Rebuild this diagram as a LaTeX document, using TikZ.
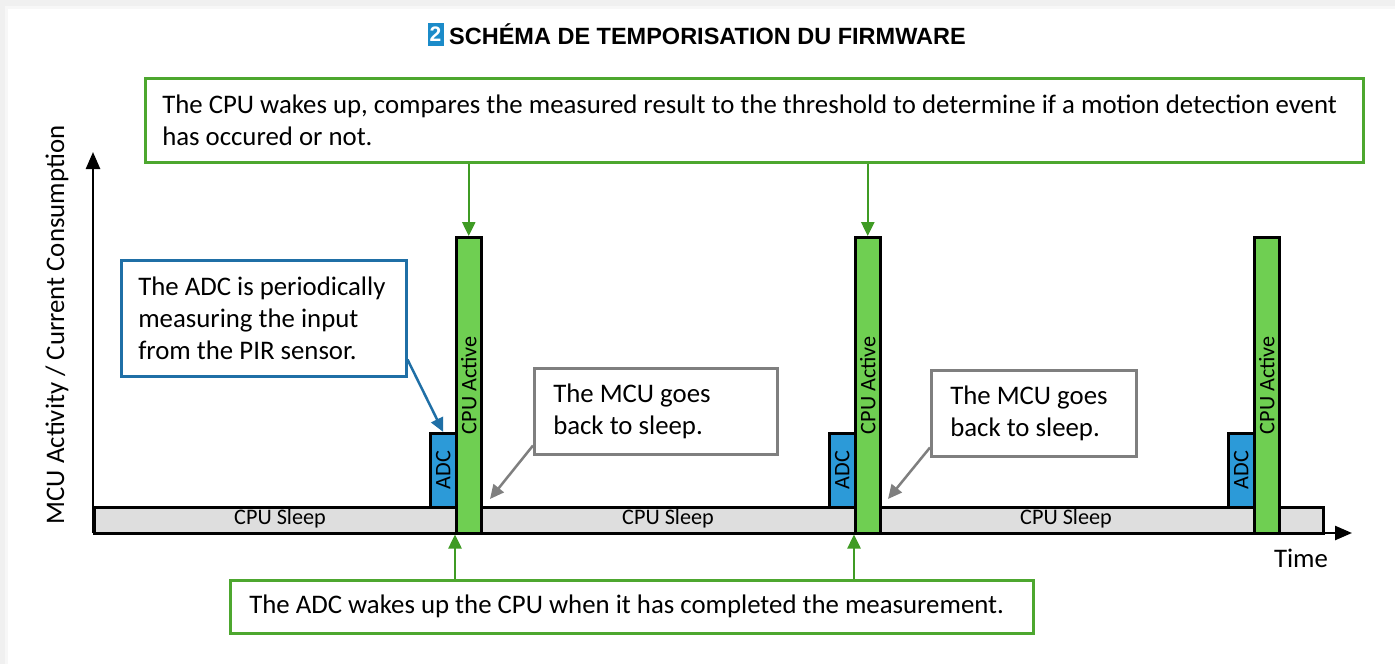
\documentclass[tikz,border=0pt]{standalone}
\usepackage{fontspec}
\setmainfont{Carlito}
\newfontfamily\headfont{Liberation Sans}
\usetikzlibrary{arrows.meta}
\definecolor{cpugreen}{HTML}{6FCF52}
\definecolor{boxgreen}{HTML}{4DA72F}
\definecolor{arrowgreen}{HTML}{3F9B24}
\definecolor{adcblue}{HTML}{2C9AD8}
\definecolor{noteblue}{HTML}{1F6FA6}
\definecolor{sleepgray}{HTML}{DEDEDE}
\definecolor{notegray}{HTML}{7F7F7F}
\definecolor{badgeblue}{HTML}{1B8BC9}
\begin{document}
\begin{tikzpicture}[x=1pt,y=-1pt,
  bar/.style={draw=black, line width=2.5pt, inner sep=0pt, anchor=north west},
  cpubar/.style={bar, fill=cpugreen, minimum width=25pt, minimum height=296pt},
  adcbar/.style={bar, fill=adcblue, minimum width=26pt, minimum height=74pt},
  barlabel/.style={rotate=90, inner sep=0pt, font=\fontsize{22.2}{24}\selectfont},
  note/.style={line width=2.5pt, fill=white, anchor=north west, align=flush left,
    inner xsep=19pt, inner ysep=0pt, font=\fontsize{26.8}{32}\selectfont},
  greennote/.style={note, draw=boxgreen},
  bluenote/.style={note, draw=noteblue},
  graynote/.style={note, draw=notegray},
  tipstyle/.style={-{Triangle[length=14pt,width=13pt]}},
  greenarrow/.style={tipstyle, draw=arrowgreen, line width=2.5pt},
  bluearrow/.style={tipstyle, draw=noteblue, line width=2.5pt},
  grayarrow/.style={tipstyle, draw=notegray, line width=2.5pt},
  axis/.style={line width=2.5pt, -{Triangle[length=17pt,width=14pt]}},
  axislabel/.style={font=\fontsize{26.8}{32}\selectfont}
]
\useasboundingbox (0,0) rectangle (1395,664);
% page and card
\fill[black!6] (0,0) rectangle (1395,664);
\fill[black!3] (5,6) rectangle (1395,664);
\fill[white] (8,9) rectangle (1395,664);

% heading
\node[fill=badgeblue, text=white, minimum width=16pt, minimum height=23pt, inner sep=0pt,
  font=\headfont\bfseries\fontsize{21}{22}\selectfont] (badge) at (435.5,34) {2};
\node[anchor=west, inner sep=0pt, font=\headfont\bfseries\fontsize{23.5}{26}\selectfont] (title) at (449,34)
  {SCHÉMA DE TEMPORISATION DU FIRMWARE};

% sleep band
\node[bar, fill=sleepgray, minimum width=1229pt, minimum height=26pt] (sleep) at (93,506) {};
\node[barlabel, rotate=-90] (s1) at (280,519) {CPU Sleep};
\node[barlabel, rotate=-90] (s2) at (668,519) {CPU Sleep};
\node[barlabel, rotate=-90] (s3) at (1066,519) {CPU Sleep};

% ADC conversions and CPU active bursts
\node[adcbar] (adc1) at (429,432) {};
\node[adcbar] (adc2) at (828,432) {};
\node[adcbar] (adc3) at (1227,432) {};
\node[cpubar] (cpu1) at (455,236) {};
\node[cpubar] (cpu2) at (854,236) {};
\node[cpubar] (cpu3) at (1253,236) {};
\foreach \i in {1,2,3}{
  \node[barlabel] (adct\i) at (adc\i.center) {ADC};
  \node[barlabel] (cput\i) at (cpu\i.center) {CPU Active};
}

% axes
\coordinate (origin) at (93,533);
\coordinate (ytip) at (93,152);
\coordinate (xtip) at (1352,533);
\draw[axis] (origin) -- (ytip);
\draw[axis] (origin) -- (xtip);
\node[axislabel, rotate=90] (ylab) at (57,325) {MCU Activity / Current Consumption};
\node[axislabel] (tlab) at (1301,558) {Time};

% callouts
\node[greennote, inner xsep=17pt, text width=1184pt, minimum height=84pt] (wake) at (144,77)
  {The CPU wakes up, compares the measured result to the threshold to determine if a motion detection event\\has occured or not.};
\node[greennote, text width=765pt, minimum height=53pt] (meas) at (229,579)
  {The ADC wakes up the CPU when it has completed the measurement.};
\node[bluenote, inner xsep=17pt, text width=251pt, minimum height=116pt] (adcnote) at (120,259)
  {The ADC is periodically\\measuring the input\\from the PIR sensor.};
\node[graynote, text width=205pt, minimum height=86pt] (back1) at (533,367)
  {The MCU goes\\back to sleep.};
\node[graynote, text width=167pt, minimum height=86pt] (back2) at (930,369)
  {The MCU goes\\back to sleep.};

% connectors
\draw[greenarrow] (cpu1.north |- wake.south) -- (cpu1.north);
\draw[greenarrow] (cpu2.north |- wake.south) -- (cpu2.north);
\draw[greenarrow] (cpu1.south west |- meas.north) -- (cpu1.south west);
\draw[greenarrow] (cpu2.south west |- meas.north) -- (cpu2.south west);
\draw[bluearrow] ([yshift=18pt]adcnote.south east) -- (adc1.north);
\coordinate (rest1) at (490,499);
\coordinate (rest2) at (888,499);
\draw[grayarrow] ([yshift=10pt]back1.south west) -- (rest1);
\draw[grayarrow] ([yshift=10pt]back2.south west) -- (rest2);
\end{tikzpicture}
\end{document}
